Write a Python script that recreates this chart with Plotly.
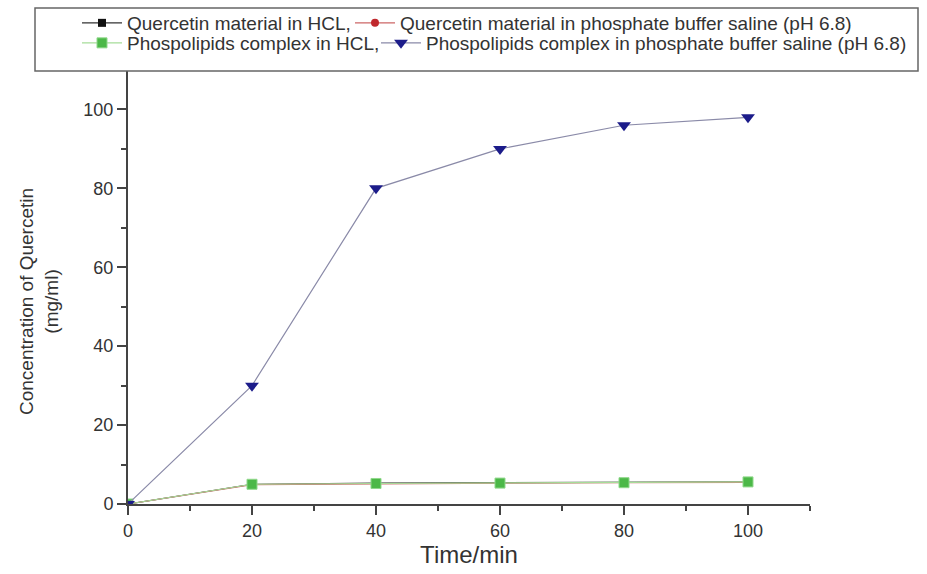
import plotly.graph_objects as go

time_min = [0, 20, 40, 60, 80, 100]
quercetin_hcl = [0, 5.0, 5.3, 5.4, 5.5, 5.6]
quercetin_pbs = [0, 4.9, 5.1, 5.3, 5.4, 5.5]
complex_hcl = [0, 5.0, 5.2, 5.3, 5.4, 5.6]
complex_pbs = [0, 30, 80, 90, 96, 98]

names = [
    "Quercetin material in HCL,",
    "Quercetin material in phosphate buffer saline (pH 6.8)",
    "Phospolipids complex in HCL,",
    "Phospolipids complex in phosphate buffer saline (pH 6.8)",
]

FONT = "Liberation Sans, Arial, sans-serif"
TXT = "#333333"
AX = "#444444"

fig = go.Figure()
fig.add_trace(go.Scatter(x=time_min, y=quercetin_hcl, name=names[0], mode="lines+markers",
                         line=dict(color="#333333", width=1.2),
                         marker=dict(symbol="square", size=8, color="#111111"),
                         legend="legend", showlegend=True))
fig.add_trace(go.Scatter(x=time_min, y=quercetin_pbs, name=names[1], mode="lines+markers",
                         line=dict(color="#cc6666", width=1.2),
                         marker=dict(symbol="circle", size=8, color="#c0282d"),
                         legend="legend2", showlegend=True))
fig.add_trace(go.Scatter(x=time_min, y=complex_hcl, name=names[2], mode="lines+markers",
                         line=dict(color="#a6dd99", width=1.2),
                         marker=dict(symbol="square", size=10, color="#4cb848",
                                     line=dict(color="#8fd88a", width=1)),
                         legend="legend3", showlegend=True))
fig.add_trace(go.Scatter(x=time_min, y=complex_pbs, name=names[3], mode="lines+markers",
                         line=dict(color="#8a8aa8", width=1.2),
                         marker=dict(symbol="triangle-down", size=12, color="#1c1c8a"),
                         legend="legend4", showlegend=True))

W, H = 927, 574
ML, MR, MT, MB = 128, 117, 70, 70
pw = W - ML - MR
ph = H - MT - MB

fig.add_shape(type="rect", xref="paper", yref="paper",
              x0=(35 - ML) / pw, x1=(918 - ML) / pw,
              y0=(H - MB - 71) / ph, y1=(H - MB - 8) / ph,
              line=dict(color="#666666", width=1.5), fillcolor="white", layer="above")

leg_common = dict(xref="paper", yref="paper", xanchor="left",
                  yanchor="middle", font=dict(family=FONT, size=19, color=TXT),
                  bgcolor="rgba(0,0,0,0)", borderwidth=0, itemwidth=40,
                  tracegroupgap=0, itemclick=False, visible=True)


def px_x(v):
    return (v - ML) / pw


def px_y(v):
    return (H - MB - v) / ph


fig.update_layout(
    width=W, height=H,
    showlegend=True,
    margin=dict(l=ML, r=MR, t=MT, b=MB, autoexpand=False),
    plot_bgcolor="white", paper_bgcolor="white",
    font=dict(family=FONT, color=TXT),
    legend=dict(x=px_x(77), y=px_y(23), **leg_common),
    legend2=dict(x=px_x(350), y=px_y(23), **leg_common),
    legend3=dict(x=px_x(77), y=px_y(43), **leg_common),
    legend4=dict(x=px_x(376), y=px_y(43), **leg_common),
    xaxis=dict(range=[0, 110], dtick=20, tick0=0, showline=True, linecolor=AX,
               linewidth=2, ticks="outside", ticklen=9, tickwidth=2, tickcolor=AX,
               minor=dict(dtick=10, ticks="outside", ticklen=5, tickwidth=2, tickcolor=AX),
               showgrid=False, zeroline=False,
               tickfont=dict(size=18, color=TXT),
               title=dict(text="Time/min", font=dict(size=24, color=TXT), standoff=7)),
    yaxis=dict(range=[0, 110], dtick=20, tick0=0, showline=True, linecolor=AX,
               linewidth=2, ticks="outside", ticklen=9, tickwidth=2, tickcolor=AX,
               minor=dict(dtick=10, ticks="outside", ticklen=5, tickwidth=2, tickcolor=AX),
               showgrid=False, zeroline=False,
               tickfont=dict(size=18, color=TXT)),
    annotations=[dict(text="Concentration of Quercetin<br>(mg/ml)", textangle=-90,
                      xref="paper", yref="paper", x=px_x(39), y=px_y(302),
                      xanchor="center", yanchor="middle", showarrow=False,
                      font=dict(family=FONT, size=19, color=TXT))],
)

fig.write_html("out.html")
